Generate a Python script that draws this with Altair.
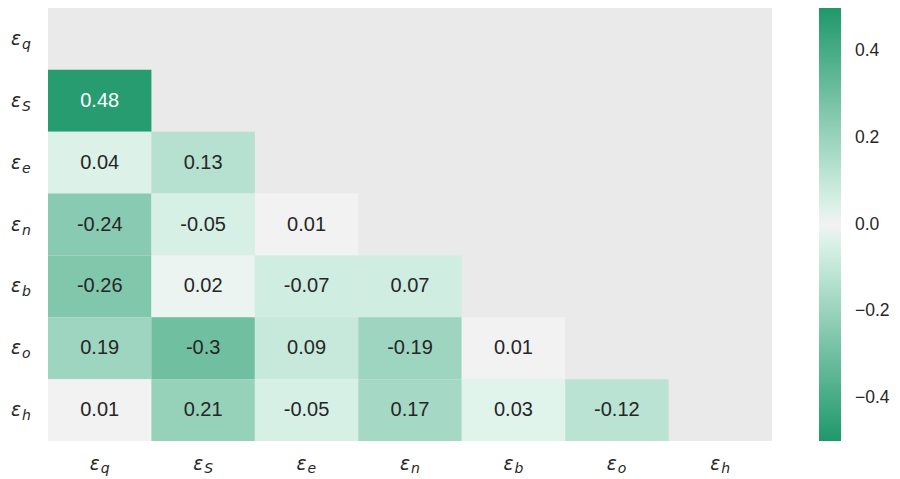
import altair as alt
import pandas as pd

names = ["q", "S", "e", "n", "b", "o", "h"]
row_S = [0.48]
row_e = [0.04, 0.13]
row_n = [-0.24, -0.05, 0.01]
row_b = [-0.26, 0.02, -0.07, 0.07]
row_o = [0.19, -0.3, 0.09, -0.19, 0.01]
row_h = [0.01, 0.21, -0.05, 0.17, 0.03, -0.12]
lower_rows = {"S": row_S, "e": row_e, "n": row_n, "b": row_b, "o": row_o, "h": row_h}
colorbar_ticks = [-0.4, -0.2, 0.0, 0.2, 0.4]

records = []
for r, vals in lower_rows.items():
    for j, v in enumerate(vals):
        records.append({"row": r, "col": names[j], "value": v, "label": format(v, ".2g")})
df = pd.DataFrame(records)
lab = pd.DataFrame({"var": names})

W, H = 724, 433
DARK, MINT, GRAY = "#1e986a", "#e3f6ee", "#f2f2f2"
TXT = "#262626"

xs = alt.Scale(domain=names, paddingInner=0, paddingOuter=0)
ys = alt.Scale(domain=names, paddingInner=0, paddingOuter=0)
color_scale = alt.Scale(
    domain=[-0.5, -0.022, -0.018, 0.018, 0.022, 0.5],
    range=[DARK, MINT, GRAY, GRAY, MINT, DARK],
    interpolate="rgb",
)

X = alt.X("col:N", scale=xs, axis=None, sort=names)
Y = alt.Y("row:N", scale=ys, axis=None, sort=names)

cells = alt.Chart(df).mark_rect(strokeWidth=0).encode(
    x=X,
    y=Y,
    color=alt.Color(
        "value:Q",
        scale=color_scale,
        legend=alt.Legend(
            orient="none",
            legendX=W + 47,
            legendY=0,
            direction="vertical",
            gradientLength=H,
            gradientThickness=22,
            gradientStrokeWidth=0,
            values=colorbar_ticks,
            format=".1f",
            labelFont="Liberation Sans",
            labelFontSize=17.5,
            labelColor=TXT,
            labelOffset=14,
            labelOverlap=False,
            padding=0,
            title=None,
        ),
    ),
)

texts = alt.Chart(df).mark_text(font="Liberation Sans", fontSize=20).encode(
    x=X,
    y=Y,
    text="label:N",
    color=alt.condition("abs(datum.value) > 0.4", alt.value("white"), alt.value(TXT)),
)

LX = alt.X("var:N", scale=xs, axis=None, sort=names)
LY = alt.Y("var:N", scale=ys, axis=None, sort=names)
eps_style = dict(font="DejaVu Sans", fontStyle="italic", fontSize=18.5, color=TXT, baseline="alphabetic")
sub_style = dict(font="DejaVu Sans", fontStyle="italic", fontSize=14, color=TXT, baseline="alphabetic")

bot_eps = alt.Chart(lab).mark_text(text="ε", align="right", **eps_style).encode(
    x=LX, y=alt.value(H + 29)
)
bot_sub = alt.Chart(lab).mark_text(align="left", dx=1, **sub_style).encode(
    x=LX, y=alt.value(H + 32), text="var:N"
)
left_eps = alt.Chart(lab).mark_text(text="ε", align="right", dy=6, **eps_style).encode(
    y=LY, x=alt.value(-27)
)
left_sub = alt.Chart(lab).mark_text(align="left", dx=1, dy=10, **sub_style).encode(
    y=LY, x=alt.value(-27), text="var:N"
)

chart = (
    alt.layer(cells, texts, bot_eps, bot_sub, left_eps, left_sub)
    .properties(
        width=W,
        height=H,
        autosize=alt.AutoSizeParams(type="none"),
        padding={"left": 40, "top": 0, "right": 120, "bottom": 36},
        background="white",
    )
    .configure_view(fill="#EAEAEA", strokeWidth=0)
)

chart.save("out.html", embed_options={"renderer": "svg", "actions": False})
